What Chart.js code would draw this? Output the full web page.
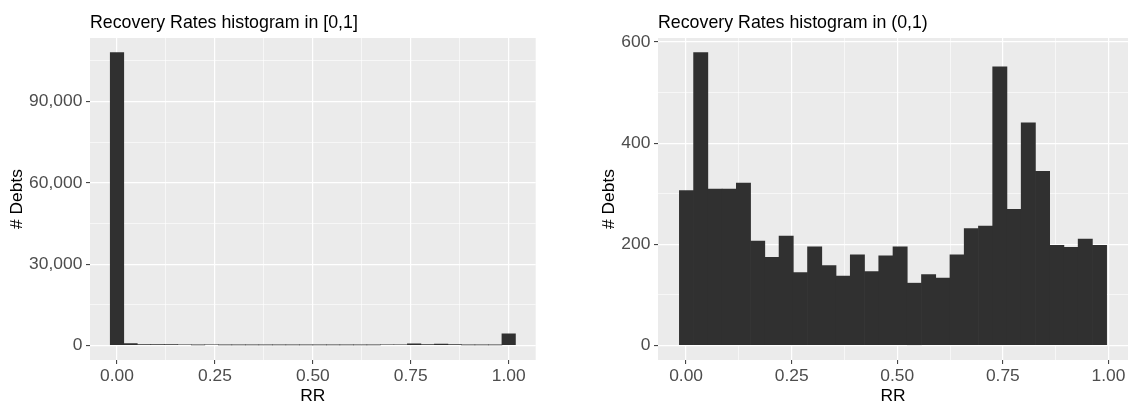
<!DOCTYPE html>
<html>
<head>
<meta charset="utf-8">
<title>Recovery Rates histograms</title>
<script src="https://cdn.jsdelivr.net/npm/chart.js@4"></script>
<style>
  html, body { margin: 0; padding: 0; background: #ffffff; width: 1128px; height: 403px; overflow: hidden; }
  canvas { position: absolute; top: 0; }
  #rrAll { left: 0; }
  #rrOpen { left: 560px; }
</style>
</head>
<body>
<canvas id="rrAll" width="560" height="403"></canvas>
<canvas id="rrOpen" width="568" height="403"></canvas>
<script>
// Debt counts per recovery-rate bin (30 bins each)
const countsAll = [108100, 650, 320, 310, 300, 210, 180, 215, 150, 190,
                   160, 140, 175, 150, 175, 190, 125, 140, 135, 175,
                   225, 240, 600, 280, 450, 330, 200, 195, 205, 4300];
const countsOpen = [306, 579, 309, 309, 321, 206, 174, 216, 144, 195,
                    158, 137, 179, 146, 177, 195, 123, 140, 133, 179,
                    231, 236, 551, 269, 440, 344, 198, 194, 210, 198];

// Centres of the first and last bin of each histogram
const allFirstCentre = 0, allLastCentre = 1;
const openFirstCentre = 0.001, openLastCentre = 0.979;

// Axis breaks
const xMajor = [0, 0.25, 0.5, 0.75, 1];
const xMinor = [0.125, 0.375, 0.625, 0.875];
const xLabels = ['0.00', '0.25', '0.50', '0.75', '1.00'];

const yMajorAll = [0, 30000, 60000, 90000];
const yMinorAll = [15000, 45000, 75000, 105000];
const yLabelsAll = ['0', '30,000', '60,000', '90,000'];

const yMajorOpen = [0, 200, 400, 600];
const yMinorOpen = [100, 300, 500];
const yLabelsOpen = ['0', '200', '400', '600'];

const FONT = '"Liberation Sans", Arial, Helvetica, sans-serif';
const PANEL_BG = '#EBEBEB';
const BAR_FILL = '#303030';
const TICK_TEXT = '#4D4D4D';

const panelBackground = {
  id: 'panelBackground',
  beforeDraw(chart) {
    const { ctx, chartArea: a } = chart;
    ctx.save();
    ctx.fillStyle = PANEL_BG;
    ctx.fillRect(a.left, a.top, a.right - a.left, a.bottom - a.top);
    ctx.restore();
  }
};

function histogram(canvasId, counts, firstCentre, lastCentre, yMajor, yMinor, yLabels, titleText, frame) {
  const n = counts.length;
  const width = (lastCentre - firstCentre) / (n - 1);
  const points = counts.map((c, i) => ({ x: firstCentre + i * width, y: c }));

  const lo = firstCentre - width / 2, hi = lastCentre + width / 2;
  const xPad = 0.05 * (hi - lo);
  const yTop = Math.max(...counts);

  const isMajor = (list, v) => list.some(m => Math.abs(m - v) < 1e-9);
  const gridWidth = (list) => (c) => (c.tick && isMajor(list, c.tick.value)) ? 1.2 : 0.6;
  const tickColor = (list) => (c) => (c.tick && isMajor(list, c.tick.value)) ? '#333333' : 'rgba(0,0,0,0)';

  return new Chart(document.getElementById(canvasId), {
    type: 'bar',
    data: {
      datasets: [{
        data: points,
        backgroundColor: BAR_FILL,
        borderWidth: 0,
        barPercentage: 1,
        categoryPercentage: 1
      }]
    },
    options: {
      responsive: false,
      animation: false,
      devicePixelRatio: 1,
      layout: { padding: { left: frame.padLeft, right: frame.padRight, top: 0, bottom: 0 } },
      plugins: {
        legend: { display: false },
        tooltip: { enabled: false },
        title: {
          display: true,
          text: titleText,
          align: 'start',
          fullSize: false,
          color: '#000000',
          font: { family: FONT, size: 17.8, weight: 'normal' },
          padding: { top: 12.3, bottom: 4.3 }
        }
      },
      scales: {
        x: {
          type: 'linear',
          offset: false,
          min: lo - xPad,
          max: hi + xPad,
          afterBuildTicks: (s) => { s.ticks = [...xMajor, ...xMinor].sort((a, b) => a - b).map(v => ({ value: v })); },
          afterFit: (s) => { s.height = 43; },
          ticks: {
            autoSkip: false,
            maxRotation: 0,
            padding: 1.5,
            color: TICK_TEXT,
            font: { family: FONT, size: 17.4 },
            callback: (v) => { const k = xMajor.findIndex(m => Math.abs(m - v) < 1e-9); return k >= 0 ? xLabels[k] : ''; }
          },
          grid: {
            offset: false,
            color: '#FFFFFF',
            lineWidth: gridWidth(xMajor),
            drawTicks: true,
            tickLength: 4,
            tickWidth: 1,
            tickColor: tickColor(xMajor)
          },
          border: { display: false },
          title: {
            display: true,
            text: 'RR',
            color: '#000000',
            font: { family: FONT, size: 17.4 },
            padding: { top: 0, bottom: -3.4 }
          }
        },
        y: {
          type: 'linear',
          min: -0.05 * yTop,
          max: 1.05 * yTop,
          afterBuildTicks: (s) => { s.ticks = [...yMajor, ...yMinor].sort((a, b) => a - b).map(v => ({ value: v })); },
          afterFit: (s) => { s.width = frame.yWidth; },
          ticks: {
            autoSkip: false,
            padding: 3.7,
            color: TICK_TEXT,
            font: { family: FONT, size: 17.4 },
            callback: (v) => { const k = yMajor.findIndex(m => Math.abs(m - v) < 1e-9); return k >= 0 ? yLabels[k] : ''; }
          },
          grid: {
            color: '#FFFFFF',
            lineWidth: gridWidth(yMajor),
            drawTicks: true,
            tickLength: 4,
            tickWidth: 1,
            tickColor: tickColor(yMajor)
          },
          border: { display: false },
          title: {
            display: true,
            text: '# Debts',
            color: '#000000',
            font: { family: FONT, size: 17.4 },
            padding: { top: 6.3, bottom: 0 }
          }
        }
      }
    },
    plugins: [panelBackground]
  });
}

histogram('rrAll', countsAll, allFirstCentre, allLastCentre,
          yMajorAll, yMinorAll, yLabelsAll, 'Recovery Rates histogram in [0,1]',
          { padLeft: 0, padRight: 24.3, yWidth: 90 });

histogram('rrOpen', countsOpen, openFirstCentre, openLastCentre,
          yMajorOpen, yMinorOpen, yLabelsOpen, 'Recovery Rates histogram in (0,1)',
          { padLeft: 32.3, padRight: 0, yWidth: 65.7 });
</script>
</body>
</html>
